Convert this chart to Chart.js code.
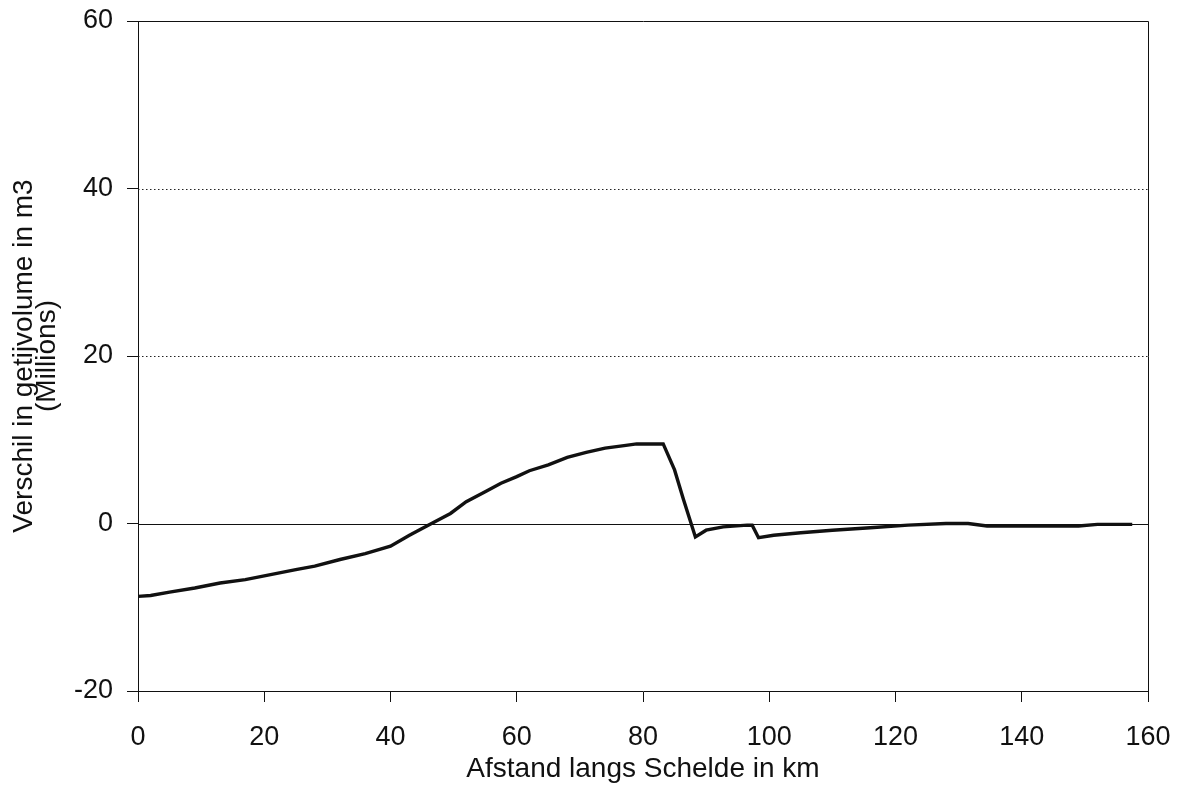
<!DOCTYPE html>
<html>
<head>
<meta charset="utf-8">
<title>Verschil in getijvolume</title>
<script src="https://cdn.jsdelivr.net/npm/chart.js@4"></script>
<style>
  html, body { margin: 0; padding: 0; background: #ffffff; }
  #wrap { width: 1186px; height: 785px; position: relative; }
</style>
</head>
<body>
<div id="wrap"><canvas id="chart" width="1186" height="785"></canvas></div>
<script>
// Distance along the Scheldt (km)
const afstandKm = [0, 2, 5, 9, 13, 17, 21, 25, 28, 32, 36, 40, 43, 46.5, 49.5, 52, 55, 57.5, 60, 62, 65, 68, 71, 74, 77, 79, 83.2, 85, 86.4, 88.3, 90, 92.7, 96.5, 97.3, 98.3, 100.7, 105, 110, 116, 122, 128, 131.5, 134.5, 140, 149, 152, 157.5];
// Difference in tidal volume (millions of m3)
const verschilMln = [-8.7, -8.6, -8.2, -7.7, -7.1, -6.7, -6.1, -5.5, -5.1, -4.3, -3.6, -2.7, -1.4, 0, 1.2, 2.6, 3.8, 4.8, 5.6, 6.3, 7.0, 7.9, 8.5, 9.0, 9.3, 9.5, 9.5, 6.4, 2.9, -1.6, -0.8, -0.4, -0.2, -0.2, -1.7, -1.4, -1.1, -0.8, -0.5, -0.2, 0, 0, -0.3, -0.3, -0.3, -0.1, -0.1];

const xTicks = [0, 20, 40, 60, 80, 100, 120, 140, 160];
const yTicks = [-20, 0, 20, 40, 60];
const dottedLevels = [20, 40];

const FONT = "'Liberation Sans', Arial, sans-serif";

// Plot frame, zero line and dotted horizontal reference lines
const framePlugin = {
  id: 'frame',
  beforeDatasetsDraw(chart) {
    const { ctx, chartArea: a, scales: { y } } = chart;
    ctx.save();
    ctx.strokeStyle = '#222';
    ctx.lineWidth = 1;
    ctx.setLineDash([1.5, 2.5]);
    dottedLevels.forEach(v => {
      const py = Math.round(y.getPixelForValue(v)) + 0.5;
      ctx.beginPath();
      ctx.moveTo(a.left, py);
      ctx.lineTo(a.right, py);
      ctx.stroke();
    });
    ctx.setLineDash([]);
    ctx.strokeStyle = '#111';
    const pz = Math.round(y.getPixelForValue(0)) + 0.5;
    ctx.beginPath();
    ctx.moveTo(a.left, pz);
    ctx.lineTo(a.right, pz);
    ctx.stroke();
    // top and right edges of the plot box
    ctx.beginPath();
    ctx.moveTo(Math.round(a.left) + 0.5, Math.round(a.top) + 0.5);
    ctx.lineTo(Math.round(a.right) + 0.5, Math.round(a.top) + 0.5);
    ctx.lineTo(Math.round(a.right) + 0.5, Math.round(a.bottom) + 0.5);
    ctx.stroke();
    ctx.restore();
  }
};

const bgPlugin = {
  id: 'bg',
  beforeDraw(chart) {
    const { ctx, width, height } = chart;
    ctx.save();
    ctx.fillStyle = '#ffffff';
    ctx.fillRect(0, 0, width, height);
    ctx.restore();
  }
};

new Chart(document.getElementById('chart'), {
  type: 'line',
  data: {
    datasets: [{
      data: afstandKm.map((k, i) => ({ x: k, y: verschilMln[i] })),
      borderColor: '#111111',
      borderWidth: 3.4,
      pointRadius: 0,
      tension: 0,
      fill: false
    }]
  },
  options: {
    responsive: false,
    animation: false,
    devicePixelRatio: 1,
    layout: { padding: { left: 0, top: 21, right: 38, bottom: 0 } },
    plugins: {
      legend: { display: false },
      tooltip: { enabled: false }
    },
    scales: {
      x: {
        type: 'linear',
        min: 0,
        max: 160,
        afterBuildTicks(scale) { scale.ticks = xTicks.map(v => ({ value: v })); },
        afterFit(scale) {
          scale.height = 94;
          scale.paddingLeft = 0;
          scale.paddingRight = 0;
        },
        grid: {
          drawOnChartArea: false,
          drawTicks: true,
          tickLength: 11,
          tickColor: '#111',
          tickWidth: 1
        },
        border: { display: true, color: '#111', width: 1 },
        ticks: {
          color: '#111',
          font: { family: FONT, size: 27 },
          padding: 19,
          maxRotation: 0,
          autoSkip: false
        },
        title: {
          display: true,
          text: 'Afstand langs Schelde in km',
          color: '#111',
          font: { family: FONT, size: 28, lineHeight: 1.0 },
          padding: { top: 0, bottom: 2 }
        }
      },
      y: {
        type: 'linear',
        min: -20,
        max: 60,
        afterBuildTicks(scale) { scale.ticks = yTicks.map(v => ({ value: v })); },
        afterFit(scale) {
          scale.width = 138;
          scale.paddingTop = 0;
          scale.paddingBottom = 0;
        },
        grid: {
          drawOnChartArea: false,
          drawTicks: true,
          tickLength: 11,
          tickColor: '#111',
          tickWidth: 1
        },
        border: { display: true, color: '#111', width: 1 },
        ticks: {
          color: '#111',
          font: { family: FONT, size: 27 },
          padding: 14,
          autoSkip: false
        },
        title: {
          display: true,
          text: ['Verschil in getijvolume in m3', '(Millions)'],
          color: '#111',
          font: { family: FONT, size: 28, lineHeight: 0.85 },
          padding: { top: 12, bottom: 0 }
        }
      }
    }
  },
  plugins: [bgPlugin, framePlugin]
});
</script>
</body>
</html>
